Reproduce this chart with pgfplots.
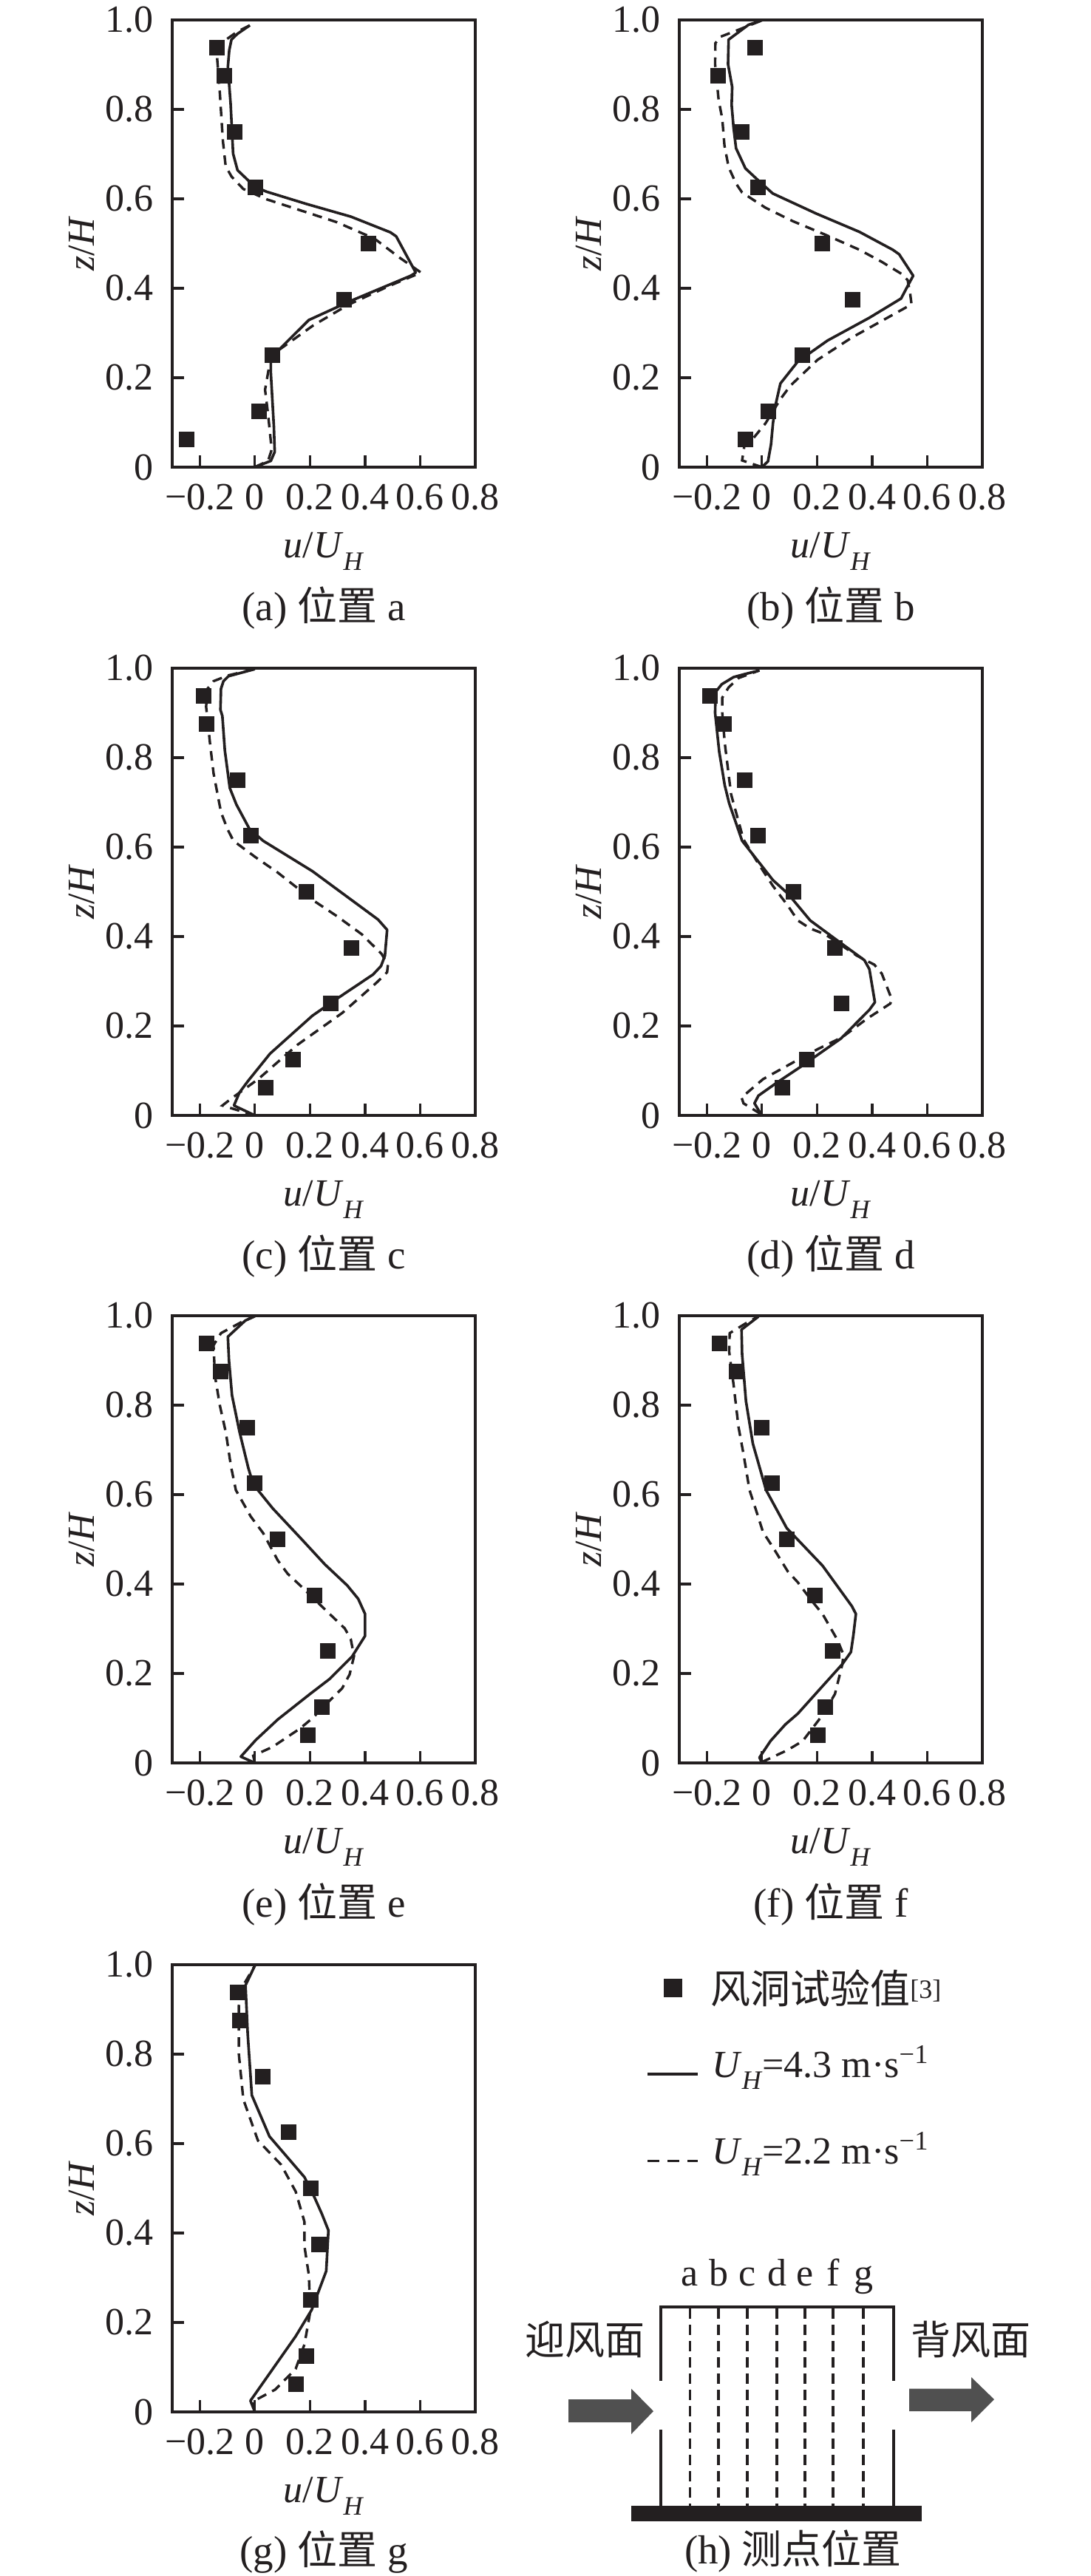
\documentclass[border=0pt]{standalone}
\usepackage{fontspec}
\setmainfont{Liberation Serif}
\newfontfamily\cjk{Noto Sans CJK SC}
\usepackage{pgfplots}
\pgfplotsset{compat=1.18}
\definecolor{ink}{HTML}{231F20}
\definecolor{arrowg}{HTML}{505050}
\newcommand{\tsize}{\fontsize{26}{30}\selectfont}
\newcommand{\capsize}{\fontsize{27.5}{30}\selectfont}
\newcommand{\cjksize}{\fontsize{27}{30}\selectfont}
\newcommand{\uh}{\textit{U}\raisebox{-0.32em}{\fontsize{18}{20}\selectfont\textit{H}}}
\pgfplotsset{
  panel/.style={
    scale only axis, width=205pt, height=302.5pt,
    anchor=south west,
    xmin=-0.3, xmax=0.8, ymin=0, ymax=1,
    xtick={-0.2,0,0.2,0.4,0.6,0.8},
    xticklabels={−0.2,0,0.2,0.4,0.6,0.8},
    ytick={0,0.2,0.4,0.6,0.8,1.0},
    yticklabels={0,0.2,0.4,0.6,0.8,1.0},
    tick align=inside, tick pos=left,
    major tick length=8pt,
    axis line style={line width=1.9pt, color=ink},
    every tick/.style={line width=1.6pt, color=ink},
    xticklabel style={font=\tsize, anchor=base, yshift=-29pt, text=ink},
    yticklabel style={font=\tsize, anchor=east, xshift=-9pt, text=ink},
    clip=false,
    xlabel={\tsize\textit{u}/\uh},
    ylabel={\tsize\textit{z}/\textit{H}},
    every axis x label/.style={at={(axis description cs:0.5,-0.188)},anchor=center,text=ink},
    every axis y label/.style={at={(axis description cs:-0.298,0.5)},anchor=center,rotate=90,text=ink},
  },
  exp/.style={only marks, mark=square*, mark size=5pt, color=ink, mark options={line width=0pt}},
  sol/.style={no marks, line width=1.8pt, color=ink, line join=round},
  das/.style={no marks, line width=1.7pt, color=ink, dash pattern=on 6.5pt off 4.5pt},
  thinL/.style={no marks, line width=1.6pt, color=ink},
  dashL/.style={no marks, line width=1.6pt, color=ink, dash pattern=on 7pt off 4pt},
}
\begin{document}
\begin{tikzpicture}[x=1pt,y=1pt]
\path[use as bounding box] (0,0) rectangle (738,1742.5);

% (a)
\begin{axis}[panel, at={(116.5pt,1426.5pt)}]
\addplot[sol] coordinates {(0,0)(.058,.014)(.072,.034)(.069,.090)(.058,.210)(.058,.238)(.085,.261)(.196,.329)(.349,.372)(.566,.428)(.584,.435)(.513,.516)(.492,.525)(.349,.560)(.190,.588)(.042,.616)(0,.627)(-.063,.664)(-.079,.701)(-.088,.812)(-.098,.895)(-.093,.932)(-.085,.956)(-.063,.969)(-.018,.988)};
\addplot[das] coordinates {(0,0)(.048,.014)(.061,.039)(.048,.118)(.037,.173)(.053,.229)(.085,.261)(.212,.317)(.339,.363)(.487,.405)(.603,.435)(.524,.469)(.434,.511)(.296,.548)(.042,.599)(-.042,.622)(-.085,.650)(-.106,.673)(-.116,.729)(-.127,.835)(-.138,.923)(-.116,.951)(-.063,.974)(-.018,.988)};
\addplot[exp] coordinates {(-.247,.0625)(.014,.125)(.063,.25)(.325,.375)(.413,.5)(.002,.625)(-.074,.75)(-.111,.875)(-.138,.9375)};
\end{axis}
% (b)
\begin{axis}[panel, at={(459.5pt,1426.5pt)}]
\addplot[sol] coordinates {(0,0)(.022,.013)(.033,.051)(.040,.098)(.049,.138)(.067,.187)(.130,.236)(.238,.283)(.390,.334)(.505,.377)(.529,.405)(.549,.428)(.498,.476)(.475,.486)(.354,.526)(.197,.567)(.039,.612)(-.013,.641)(-.060,.668)(-.094,.713)(-.103,.759)(-.110,.810)(-.108,.850)(-.123,.901)(-.121,.956)(-.049,.989)(0,.999)};
\addplot[das] coordinates {(0,0)(-.072,.015)(-.063,.051)(-.036,.061)(.013,.098)(.067,.152)(.103,.182)(.202,.240)(.327,.290)(.543,.364)(.538,.388)(.529,.418)(.507,.432)(.435,.459)(.354,.486)(.229,.520)(.112,.550)(.013,.580)(-.072,.614)(-.094,.634)(-.121,.671)(-.136,.719)(-.144,.779)(-.157,.820)(-.170,.901)(-.169,.948)(-.152,.962)(-.085,.978)(0,.999)};
\addplot[exp] coordinates {(-.061,.0625)(.024,.125)(.146,.25)(.329,.375)(.219,.5)(-.013,.625)(-.074,.75)(-.159,.875)(-.024,.9375)};
\end{axis}
% (c)
\begin{axis}[panel, at={(116.5pt,988pt)}]
\addplot[sol] coordinates {(0,0)(-.076,.022)(-.056,.051)(-.026,.076)(.055,.138)(.209,.223)(.303,.263)(.429,.315)(.458,.334)(.472,.357)(.480,.415)(.447,.438)(.209,.546)(.030,.614)(-.020,.641)(-.067,.695)(-.091,.732)(-.109,.816)(-.118,.893)(-.125,.907)(-.123,.954)(-.114,.971)(-.096,.982)(0,.998)};
\addplot[das] coordinates {(0,0)(-.118,.022)(-.087,.037)(.012,.081)(.155,.158)(.317,.229)(.442,.297)(.480,.320)(.483,.337)(.460,.361)(.388,.405)(.299,.445)(.209,.482)(.083,.543)(.003,.577)(-.078,.614)(-.100,.641)(-.123,.678)(-.150,.765)(-.163,.833)(-.177,.914)(-.172,.954)(-.150,.971)(-.096,.984)(0,.998)};
\addplot[exp] coordinates {(.039,.0625)(.138,.125)(.275,.25)(.350,.375)(.187,.5)(-.013,.625)(-.063,.75)(-.174,.875)(-.187,.9375)};
\end{axis}
% (d)
\begin{axis}[panel, at={(459.5pt,988pt)}]
\addplot[sol] coordinates {(-.004,.003)(-.027,.027)(-.013,.044)(.049,.071)(.139,.108)(.287,.172)(.390,.236)(.410,.253)(.390,.327)(.372,.347)(.274,.391)(.175,.436)(.094,.496)(.040,.526)(-.072,.614)(-.119,.698)(-.135,.738)(-.155,.813)(-.170,.900)(-.168,.947)(-.146,.964)(-.103,.980)(-.067,.986)(-.009,.995)};
\addplot[das] coordinates {(-.004,.003)(-.067,.027)(-.074,.040)(.004,.081)(.112,.118)(.202,.148)(.292,.175)(.381,.216)(.466,.250)(.471,.260)(.435,.317)(.408,.337)(.345,.357)(.229,.405)(.175,.418)(.130,.436)(.094,.469)(.040,.513)(-.013,.563)(-.067,.617)(-.112,.718)(-.135,.833)(-.144,.900)(-.144,.934)(-.121,.957)(-.085,.978)(-.009,.995)};
\addplot[exp] coordinates {(.074,.0625)(.164,.125)(.289,.25)(.265,.375)(.114,.5)(-.013,.625)(-.063,.75)(-.139,.875)(-.189,.9375)};
\end{axis}
% (e)
\begin{axis}[panel, at={(116.5pt,550pt)}]
\addplot[sol] coordinates {(0,0)(-.051,.014)(.003,.051)(.083,.097)(.200,.154)(.272,.188)(.353,.238)(.400,.284)(.400,.333)(.375,.367)(.335,.397)(.254,.444)(.173,.498)(.065,.569)(-.006,.623)(-.024,.660)(-.056,.741)(-.083,.822)(-.094,.900)(-.098,.953)(-.035,.989)(0,.999)};
\addplot[das] coordinates {(0,0)(-.006,.016)(.065,.036)(.164,.077)(.209,.100)(.263,.134)(.317,.167)(.344,.198)(.360,.239)(.348,.277)(.326,.301)(.263,.338)(.173,.392)(.119,.423)(.083,.453)(.030,.514)(-.015,.551)(-.069,.610)(-.087,.664)(-.105,.738)(-.127,.799)(-.145,.866)(-.150,.934)(-.123,.961)(-.051,.985)(0,.999)};
\addplot[exp] coordinates {(.192,.0625)(.242,.125)(.266,.25)(.217,.375)(.083,.5)(-.002,.625)(-.027,.75)(-.124,.875)(-.174,.9375)};
\end{axis}
% (f)
\begin{axis}[panel, at={(459.5pt,550pt)}]
\addplot[sol] coordinates {(0,0)(-.009,.012)(.031,.049)(.085,.086)(.130,.110)(.292,.221)(.323,.248)(.332,.286)(.341,.333)(.327,.350)(.220,.441)(.090,.525)(.015,.610)(-.033,.714)(-.058,.809)(-.072,.914)(-.074,.969)(-.013,.998)};
\addplot[das] coordinates {(0,0)(.004,.003)(.094,.029)(.148,.049)(.220,.107)(.265,.154)(.292,.221)(.296,.242)(.274,.275)(.220,.333)(.184,.360)(.130,.404)(.094,.428)(.040,.482)(.004,.516)(-.013,.549)(-.045,.610)(-.067,.691)(-.085,.751)(-.103,.846)(-.119,.920)(-.117,.961)(-.045,.988)(-.013,.998)};
\addplot[exp] coordinates {(.204,.0625)(.231,.125)(.257,.25)(.192,.375)(.090,.5)(.036,.625)(-.002,.75)(-.091,.875)(-.155,.9375)};
\end{axis}
% (g)
\begin{axis}[panel, at={(116.5pt,111pt)}]
\addplot[sol] coordinates {(0,0)(-.016,.025)(.148,.169)(.206,.228)(.259,.315)(.267,.406)(.243,.443)(.217,.479)(.180,.525)(.053,.616)(-.011,.708)(-.026,.845)(-.034,.954)(0,.998)};
\addplot[das] coordinates {(0,0)(-.008,.023)(.074,.050)(.148,.096)(.180,.151)(.201,.224)(.196,.306)(.180,.370)(.180,.425)(.148,.493)(.095,.553)(.011,.607)(-.042,.699)(-.058,.799)(-.058,.909)(-.042,.954)(0,.998)};
\addplot[exp] coordinates {(.150,.0625)(.188,.125)(.204,.25)(.233,.375)(.204,.5)(.123,.625)(.028,.75)(-.055,.875)(-.063,.9375)};
\end{axis}

% overlay in image pixels: legend, schematic (h), captions
\begin{axis}[scale only axis, width=738pt, height=1742.5pt, at={(0pt,0pt)}, anchor=south west,
  xmin=0, xmax=1476, ymin=0, ymax=3485, y dir=reverse, hide axis, clip=false]
% legend samples
\addplot[only marks, mark=square*, mark size=6pt, color=ink, mark options={line width=0pt}] coordinates {(910,2689)};
\addplot[thinL] coordinates {(876,2806)(944,2806)};
\addplot[no marks, line width=1.5pt, color=ink, dash pattern=on 8pt off 5.5pt] coordinates {(876,2923)(944,2923)};
% schematic
\addplot[thinL, line width=1.7pt] coordinates {(894,3221)(894,3121)(1209,3121)(1209,3221)};
\addplot[thinL, line width=1.7pt] coordinates {(894,3287)(894,3390)};
\addplot[thinL, line width=1.7pt] coordinates {(1209,3287)(1209,3390)};
\addplot[dashL] coordinates {(933.5,3123)(933.5,3390)};
\addplot[dashL] coordinates {(972,3123)(972,3390)};
\addplot[dashL] coordinates {(1011,3123)(1011,3390)};
\addplot[dashL] coordinates {(1051,3123)(1051,3390)};
\addplot[dashL] coordinates {(1089,3123)(1089,3390)};
\addplot[dashL] coordinates {(1127,3123)(1127,3390)};
\addplot[dashL] coordinates {(1168,3123)(1168,3390)};
\addplot[fill=ink, draw=none] coordinates {(854,3390)(1247,3390)(1247,3411)(854,3411)} -- cycle;
\addplot[fill=arrowg, draw=none] coordinates {(769,3246)(854,3246)(854,3231.5)(884,3262)(854,3293)(854,3277)(769,3277)} -- cycle;
\addplot[fill=arrowg, draw=none] coordinates {(1230,3231.5)(1314,3231.5)(1314,3216)(1345,3246)(1314,3277)(1314,3262)(1230,3262)} -- cycle;
% captions
\node[text=ink] at (axis cs:438,822) {\capsize (a) {\cjk\cjksize 位置} a};
\node[text=ink] at (axis cs:1124,822) {\capsize (b) {\cjk\cjksize 位置} b};
\node[text=ink] at (axis cs:438,1699) {\capsize (c) {\cjk\cjksize 位置} c};
\node[text=ink] at (axis cs:1124,1699) {\capsize (d) {\cjk\cjksize 位置} d};
\node[text=ink] at (axis cs:438,2576) {\capsize (e) {\cjk\cjksize 位置} e};
\node[text=ink] at (axis cs:1124,2576) {\capsize (f) {\cjk\cjksize 位置} f};
\node[text=ink] at (axis cs:438,3453) {\capsize (g) {\cjk\cjksize 位置} g};
\node[text=ink] at (axis cs:1073,3451) {\capsize (h) {\cjk\cjksize 测点位置}};
% legend texts
\node[text=ink, anchor=west, inner sep=0pt] at (axis cs:961,2690) {{\cjk\cjksize 风洞试验值}\textsuperscript{\fontsize{18}{20}\selectfont[3]}};
\node[text=ink, anchor=base west, inner sep=0pt] at (axis cs:963,2810) {\tsize \uh=4.3 m·s\textsuperscript{−1}};
\node[text=ink, anchor=base west, inner sep=0pt] at (axis cs:963,2927) {\tsize \uh=2.2 m·s\textsuperscript{−1}};
% schematic labels
\node[text=ink, anchor=base] at (axis cs:933.5,3092) {\tsize a};
\node[text=ink, anchor=base] at (axis cs:972,3092) {\tsize b};
\node[text=ink, anchor=base] at (axis cs:1011,3092) {\tsize c};
\node[text=ink, anchor=base] at (axis cs:1051,3092) {\tsize d};
\node[text=ink, anchor=base] at (axis cs:1089,3092) {\tsize e};
\node[text=ink, anchor=base] at (axis cs:1127,3092) {\tsize f};
\node[text=ink, anchor=base] at (axis cs:1168,3092) {\tsize g};
\node[text=ink] at (axis cs:791,3165) {\cjk\cjksize 迎风面};
\node[text=ink] at (axis cs:1313,3165) {\cjk\cjksize 背风面};
\end{axis}
\end{tikzpicture}
\end{document}
